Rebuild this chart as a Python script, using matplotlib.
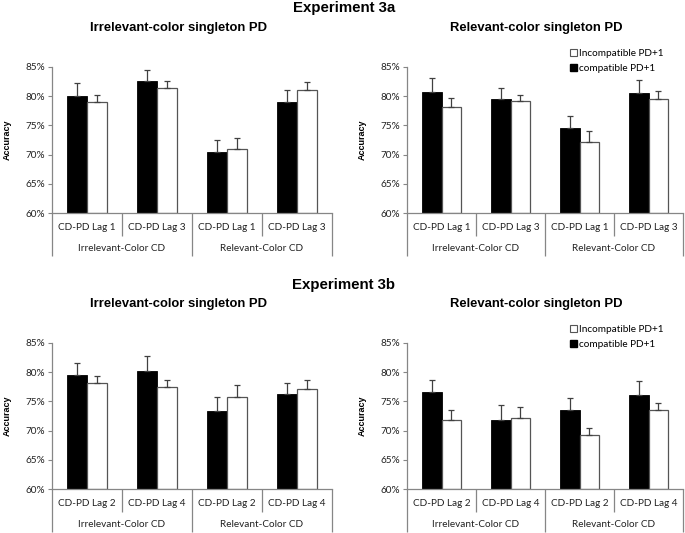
import matplotlib
matplotlib.use("Agg")
import matplotlib.pyplot as plt
import numpy as np
from matplotlib.patches import Patch
from matplotlib.ticker import FuncFormatter

# ---------------- data ----------------
lags_a = ["CD-PD Lag 1", "CD-PD Lag 3", "CD-PD Lag 1", "CD-PD Lag 3"]
lags_b = ["CD-PD Lag 2", "CD-PD Lag 4", "CD-PD Lag 2", "CD-PD Lag 4"]
groups = ["Irrelevant-Color CD", "Relevant-Color CD"]
series_names = ["Incompatible PD+1", "compatible PD+1"]
yticks = [60, 65, 70, 75, 80, 85]

# Experiment 3a, irrelevant-color singleton PD
a_irr_comp = [80.0, 82.6, 70.4, 79.0]
a_irr_comp_err = [2.3, 1.9, 2.1, 2.1]
a_irr_inc = [79.0, 81.4, 71.0, 81.0]
a_irr_inc_err = [1.2, 1.2, 1.9, 1.4]
# Experiment 3a, relevant-color singleton PD
a_rel_comp = [80.7, 79.5, 74.6, 80.6]
a_rel_comp_err = [2.3, 1.9, 2.0, 2.1]
a_rel_inc = [78.2, 79.1, 72.2, 79.5]
a_rel_inc_err = [1.4, 1.1, 1.8, 1.4]
# Experiment 3b, irrelevant-color singleton PD
b_irr_comp = [79.5, 80.1, 73.4, 76.2]
b_irr_comp_err = [2.0, 2.6, 2.3, 1.9]
b_irr_inc = [78.1, 77.5, 75.8, 77.1]
b_irr_inc_err = [1.2, 1.1, 2.0, 1.5]
# Experiment 3b, relevant-color singleton PD
b_rel_comp = [76.6, 71.8, 73.5, 76.1]
b_rel_comp_err = [2.1, 2.5, 2.1, 2.3]
b_rel_inc = [71.8, 72.1, 69.3, 73.6]
b_rel_inc_err = [1.7, 1.9, 1.1, 1.1]

# ---------------- style ----------------
W, H = 685, 533
fig = plt.figure(figsize=(W / 100, H / 100), dpi=100)
TICKFONT = ["Lato", "DejaVu Sans"]
TITLEFONT = ["Liberation Sans", "DejaVu Sans"]
AXCOL = "#868686"
ERRCOL = "#404040"


def px_axes(x0, y0, x1, y1):
    return fig.add_axes([x0 / W, 1 - y1 / H, (x1 - x0) / W, (y1 - y0) / H])


def panel(ax, comp, comp_err, inc, inc_err, lags, title, title_x, legend=False):
    n = len(comp)
    x = np.arange(n)
    bw = 0.286
    ax.bar(x - bw / 2, np.array(comp) - 60, bw, bottom=60, color="black",
           edgecolor="black", linewidth=0.6, zorder=2)
    ax.bar(x + bw / 2, np.array(inc) - 60, bw, bottom=60, color="white",
           edgecolor="#555555", linewidth=0.9, zorder=2)
    ax.errorbar(x - bw / 2, comp, yerr=[np.zeros(n), comp_err], fmt="none",
                ecolor=ERRCOL, elinewidth=0.9, capsize=2, capthick=0.9, zorder=3)
    ax.errorbar(x + bw / 2, inc, yerr=[np.zeros(n), inc_err], fmt="none",
                ecolor=ERRCOL, elinewidth=0.9, capsize=2, capthick=0.9, zorder=3)
    ax.set_xlim(-0.5, n - 0.5)
    ax.set_ylim(60, 85)
    ax.set_yticks(yticks)
    ax.yaxis.set_major_formatter(FuncFormatter(lambda v, p: f"{int(v)}%"))
    for lab in ax.get_yticklabels():
        lab.set_family(TICKFONT)
    ax.tick_params(axis="y", labelsize=7.2, length=3, width=0.8, color=AXCOL,
                   pad=2, labelcolor="#222222")
    ax.set_xticks([])
    for s in ["top", "right"]:
        ax.spines[s].set_visible(False)
    for s in ["left", "bottom"]:
        ax.spines[s].set_color(AXCOL)
        ax.spines[s].set_linewidth(0.9)
    ax.set_ylabel("Accuracy", fontsize=6.5, fontweight="bold",
                  family=TITLEFONT, labelpad=10)
    ax.set_title(title, fontsize=9.4, fontweight="bold", family=TITLEFONT,
                 pad=26, x=title_x)
    tr = ax.get_xaxis_transform()
    # category separators (short) and group separators (long)
    for i in range(n + 1):
        xe = i - 0.5
        y_end = -0.29 if i % 2 == 0 else -0.155
        ax.plot([xe, xe], [0, y_end], transform=tr, color=AXCOL, lw=0.9,
                clip_on=False, solid_capstyle="butt")
    for i, lab in enumerate(lags):
        ax.text(i, -0.10, lab, transform=tr, ha="center", va="center",
                fontsize=7.2, family=TICKFONT, color="#222222")
    for g, lab in enumerate(groups):
        ax.text(2 * g + 0.5, -0.238, lab, transform=tr, ha="center",
                va="center", fontsize=7.2, family=TICKFONT, color="#222222")
    if legend:
        handles = [Patch(facecolor="white", edgecolor="#555555", linewidth=0.8),
                   Patch(facecolor="black", edgecolor="black")]
        ax.legend(handles, series_names, loc="center left",
                  bbox_to_anchor=(0.59, 1.04), frameon=False,
                  prop={"family": TICKFONT, "size": 7.2}, handlelength=0.75,
                  handleheight=0.75, handletextpad=0.15, labelspacing=0.6,
                  borderaxespad=0, borderpad=0)


ax1 = px_axes(52, 66.7, 332, 213.3)
ax2 = px_axes(407, 66.7, 683, 213.3)
ax3 = px_axes(52, 342.7, 332, 489.3)
ax4 = px_axes(407, 342.7, 683, 489.3)

panel(ax1, a_irr_comp, a_irr_comp_err, a_irr_inc, a_irr_inc_err, lags_a,
      "Irrelevant-color singleton PD", 0.45)
panel(ax2, a_rel_comp, a_rel_comp_err, a_rel_inc, a_rel_inc_err, lags_a,
      "Relevant-color singleton PD", 0.47, legend=True)
panel(ax3, b_irr_comp, b_irr_comp_err, b_irr_inc, b_irr_inc_err, lags_b,
      "Irrelevant-color singleton PD", 0.45)
panel(ax4, b_rel_comp, b_rel_comp_err, b_rel_inc, b_rel_inc_err, lags_b,
      "Relevant-color singleton PD", 0.47, legend=True)

fig.text(344 / W, 1 - 8 / H, "Experiment 3a", ha="center", va="center",
         fontsize=10.8, fontweight="bold", family=TITLEFONT)
fig.text(344 / W, 1 - 285 / H, "Experiment 3b", ha="center", va="center",
         fontsize=10.8, fontweight="bold", family=TITLEFONT)

fig.savefig("out.png", dpi=100, facecolor="white")
